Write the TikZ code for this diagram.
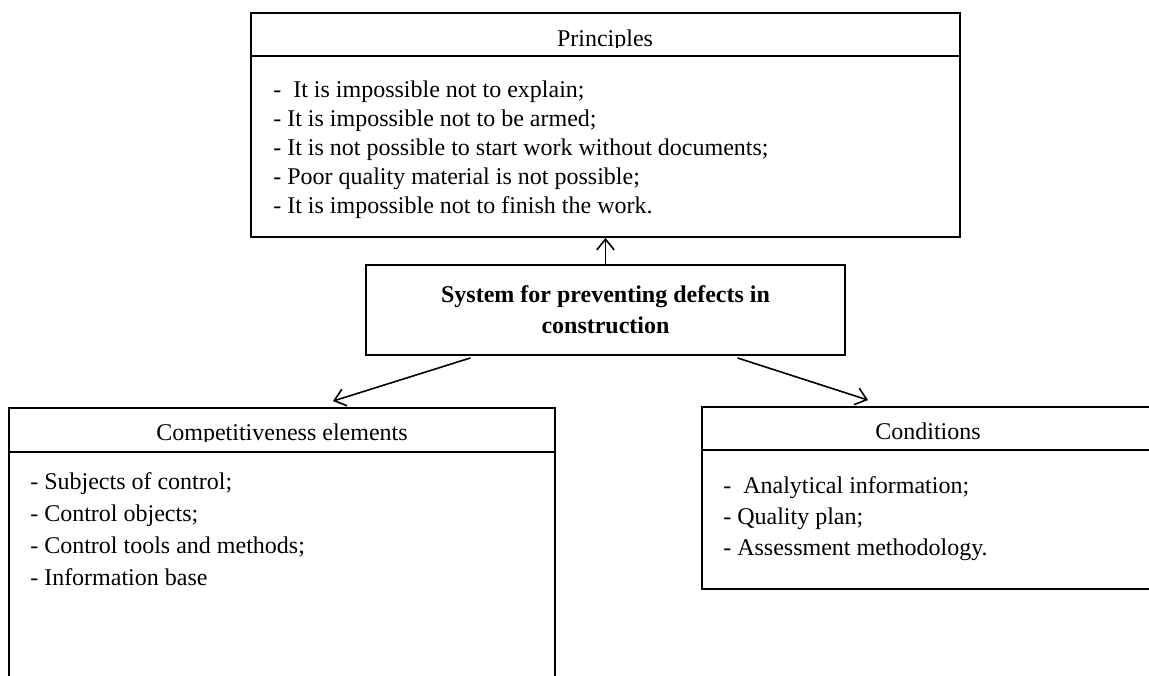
\documentclass[tikz,border=0pt]{standalone}
\usepackage{fontspec}
\setmainfont{Liberation Serif}
\usetikzlibrary{positioning,arrows.meta,calc}
\tikzset{
  frame/.style  ={draw, line width=1.4pt, inner sep=0pt},
  heading/.style={font=\fontsize{18}{20}\selectfont, anchor=base, inner sep=0pt},
  item/.style   ={font=\fontsize{18}{20}\selectfont, anchor=base west, inner sep=0pt},
  link/.style   ={-{Straight Barb[length=8pt,width=13pt]}, line width=1.2pt},
}
\begin{document}
\begin{tikzpicture}[x=0.75pt,y=-0.75pt]
  \clip (0,0) rectangle (1149,675);
  % boxes
  \node[frame, minimum width=531.75pt, minimum height=168pt] (prin) at (605.5,125) {};
  \node[frame, minimum width=359.25pt, minimum height=67.5pt, align=center,
        font=\fontsize{18}{23.25}\selectfont\bfseries] (sys) at (605.5,310)
        {System for preventing defects in\\construction};
  \node[frame, minimum width=409.5pt, minimum height=211.5pt] (comp) at (282,549) {};
  \node[frame, minimum width=337.5pt, minimum height=136.5pt] (cond) at (927,498) {};
  % header rules
  \foreach \b/\h in {prin/33pt,comp/33.75pt,cond/33pt}{
      \draw[line width=1.4pt] ([yshift=-\h]\b.north west) -- ([yshift=-\h]\b.north east);}
  % headings (cut at the baseline as in the original)
  \begin{scope}
    \clip (251,13) rectangle (960,47);
    \node[heading] (prinT) at (605,46) {Principles};
  \end{scope}
  \begin{scope}
    \clip (9,408) rectangle (555,441);
    \node[heading] (compT) at (282,440) {Competitiveness elements};
  \end{scope}
  \node[heading] (condT) at (928,439) {Conditions};
  % lists
  \foreach \t [count=\i] in {{-\ \ It is impossible not to explain;},
      {- It is impossible not to be armed;},
      {- It is not possible to start work without documents;},
      {- Poor quality material is not possible;},
      {- It is impossible not to finish the work.}}{
      \node[item] (prin\i) at (273,{97+29*(\i-1)}) {\t};}
  \foreach \t [count=\i] in {{- Subjects of control;},{- Control objects;},
      {- Control tools and methods;},{- Information base}}{
      \node[item] (comp\i) at (30,{489+32*(\i-1)}) {\t};}
  \foreach \t [count=\i] in {{-\ \ Analytical information;},{- Quality plan;},
      {- Assessment methodology.}}{
      \node[item] (cond\i) at (723,{493+31*(\i-1)}) {\t};}
  % arrows
  \draw[link] (sys.north) -- (prin.south);
  \draw[link] ($(sys.south)+(-135,2)$) -- ($(comp.north)+(51,-6)$);
  \draw[link] ($(sys.south)+(132,2)$) -- ($(cond.north)+(-59,-6)$);
\end{tikzpicture}
\end{document}
